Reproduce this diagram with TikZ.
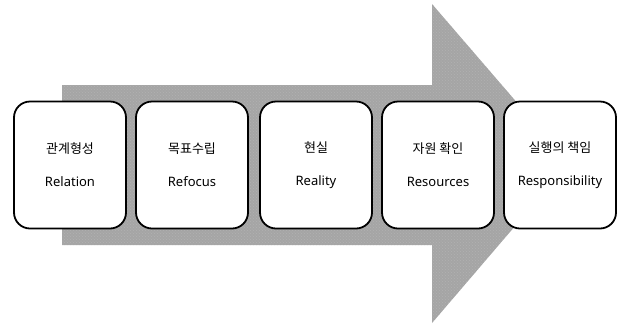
\documentclass[tikz,border=0pt]{standalone}
\usepackage{fontspec}
\setmainfont{Noto Sans}
\newfontfamily\kofont{Noto Sans CJK KR}
\usetikzlibrary{patterns}
\definecolor{arrowgray}{RGB}{165,165,165}
\tikzset{
  stepbox/.style={draw=black, line width=1.8pt, rounded corners=16pt, fill=white,
    minimum width=112pt, minimum height=127pt, inner sep=0pt, align=center,
    font=\fontsize{13pt}{33pt}\selectfont},
  bigarrow/.style={fill=arrowgray, draw=none}
}
\begin{document}
\begin{tikzpicture}[x=1pt,y=-1pt]
\useasboundingbox (0,0) rectangle (620,325);
\fill[bigarrow] (62,85) -- (432,85) -- (432,4) -- (569,163) -- (432,323) -- (432,245) -- (62,245) -- cycle;
\fill[pattern=crosshatch dots, pattern color=gray!60!white] (62,85) -- (432,85) -- (432,4) -- (569,163) -- (432,323) -- (432,245) -- (62,245) -- cycle;
\node[stepbox] (b1) at (70,165) {{\kofont 관계형성}\\Relation};
\node[stepbox] (b2) at (192,165) {{\kofont 목표수립}\\Refocus};
\node[stepbox] (b3) at (316,165) {{\kofont 현실}\\Reality};
\node[stepbox] (b4) at (438,165) {{\kofont 자원 확인}\\Resources};
\node[stepbox] (b5) at (560,165) {{\kofont 실행의 책임}\\Responsibility};
\end{tikzpicture}
\end{document}
